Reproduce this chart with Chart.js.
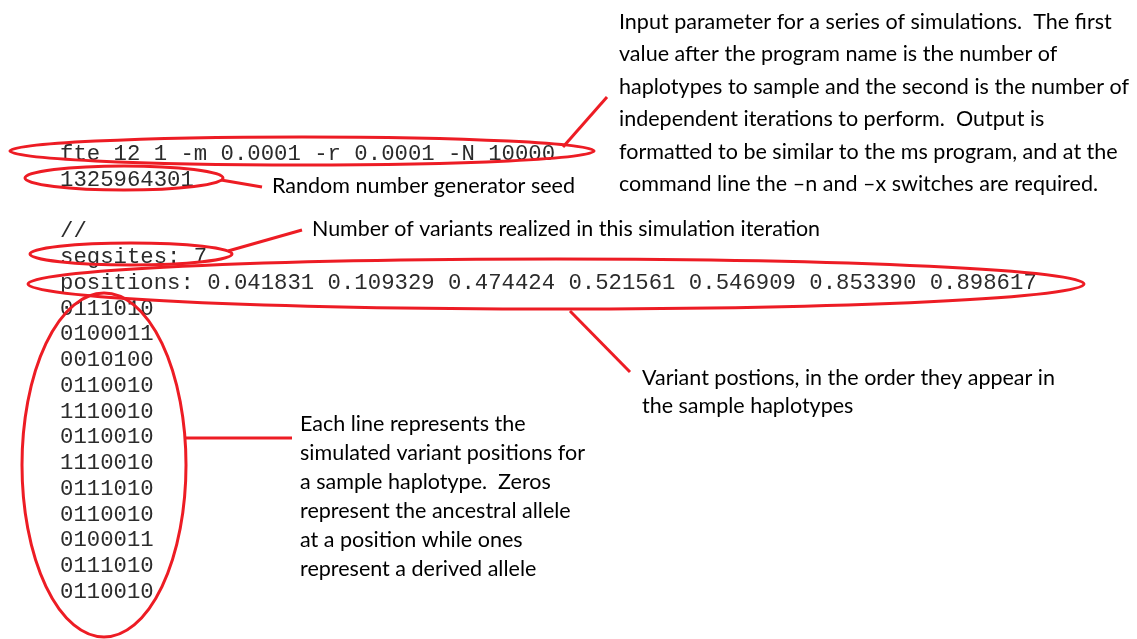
<!DOCTYPE html>
<html>
<head>
<meta charset="utf-8">
<script src="https://cdn.jsdelivr.net/npm/chart.js@4"></script>
<style>
  body { margin: 0; background: #fff; }
  #wrap { width: 1137px; height: 639px; position: relative; }
</style>
</head>
<body>
<div id="wrap"><canvas id="annotChart"></canvas></div>
<script>
// values
var commandLine = 'fte 12 1 -m 0.0001 -r 0.0001 -N 10000';
var seed = '1325964301';
var segsites = 7;
var positions = [0.041831, 0.109329, 0.474424, 0.521561, 0.546909, 0.853390, 0.898617];
var haplotypes = [
  '0111010', '0100011', '0010100', '0110010', '1110010', '0110010',
  '1110010', '0111010', '0110010', '0100011', '0111010', '0110010'
];

var inputNote = [
  'Input parameter for a series of simulations.  The first',
  'value after the program name is the number of',
  'haplotypes to sample and the second is the number of',
  'independent iterations to perform.  Output is',
  'formatted to be similar to the ms program, and at the',
  'command line the \u2013n and \u2013x switches are required.'
];
var seedNote = ['Random number generator seed'];
var segNote = ['Number of variants realized in this simulation iteration'];
var posNote = [
  'Variant postions, in the order they appear in',
  'the sample haplotypes'
];
var hapNote = [
  'Each line represents the',
  'simulated variant positions for',
  'a sample haplotype.  Zeros',
  'represent the ancestral allele',
  'at a position while ones',
  'represent a derived allele'
];

var outputLines = [commandLine, seed, '', '//', 'segsites: ' + segsites,
  'positions: ' + positions.map(function (p) { return p.toFixed(6) }).join(' ')
].concat(haplotypes);

var RED = '#ed1c24';

var annotPlugin = {
  id: 'annot',
  afterDraw: function (chart) {
    var ctx = chart.ctx;
    var sx = chart.scales.x, sy = chart.scales.y;
    function X(v) { return sx.getPixelForValue(v) }
    function Y(v) { return sy.getPixelForValue(v) }

    // program output
    ctx.save();
    ctx.fillStyle = '#2b2b2b';
    ctx.font = '22.3px "Liberation Mono", "Courier New", monospace';
    ctx.textBaseline = 'alphabetic';
    outputLines.forEach(function (line, i) {
      ctx.fillText(line, X(60), Y(160 + i * 25.75));
    });
    ctx.restore();

    // notes, squeezed a bit to a Calibri-like width
    function note(lines, x, y0, step, refIdx, refWidth) {
      ctx.save();
      ctx.fillStyle = '#000';
      ctx.font = '21.5px Lato, "Open Sans", sans-serif';
      ctx.textBaseline = 'alphabetic';
      var f = refWidth / ctx.measureText(lines[refIdx]).width;
      lines.forEach(function (line, i) {
        ctx.save();
        ctx.translate(X(x), Y(y0 + i * step));
        ctx.scale(f, 1);
        ctx.fillText(line, 0, 0);
        ctx.restore();
      });
      ctx.restore();
    }
    note(inputNote, 619, 29, 32.4, 2, 510);
    note(seedNote, 272, 193, 0, 0, 303);
    note(segNote, 312, 236, 0, 0, 508);
    note(posNote, 642, 385, 28, 0, 413);
    note(hapNote, 300, 431, 29, 1, 285);

    // red marks
    ctx.save();
    ctx.strokeStyle = RED;
    ctx.lineWidth = 3;
    function ell(cx, cy, rx, ry) {
      ctx.beginPath();
      ctx.ellipse(X(cx), Y(cy), Math.abs(X(rx) - X(0)), Math.abs(Y(ry) - Y(0)), 0, 0, Math.PI * 2);
      ctx.stroke();
    }
    function seg(x1, y1, x2, y2) {
      ctx.beginPath();
      ctx.moveTo(X(x1), Y(y1));
      ctx.lineTo(X(x2), Y(y2));
      ctx.stroke();
    }
    ell(302, 151, 292, 14);
    ell(124, 178, 99, 12);
    ell(131, 254, 101, 11);
    ell(556, 284, 528, 25);
    ell(104, 465, 82, 172);
    seg(563, 147, 607, 97);
    seg(221, 180, 262, 187);
    seg(228, 251, 302, 230);
    seg(570, 311, 630, 372);
    seg(186, 438, 292, 438);
    ctx.restore();
  }
};

var annotChart = new Chart(document.getElementById('annotChart'), {
  type: 'scatter',
  data: { datasets: [{ data: [], pointRadius: 0 }] },
  options: {
    responsive: true,
    maintainAspectRatio: false,
    animation: false,
    layout: { padding: 0 },
    scales: {
      x: { type: 'linear', min: 0, max: 1137, display: false },
      y: { type: 'linear', min: 0, max: 639, reverse: true, display: false }
    },
    plugins: { legend: { display: false }, tooltip: { enabled: false } }
  },
  plugins: [annotPlugin]
});
</script>
</body>
</html>
